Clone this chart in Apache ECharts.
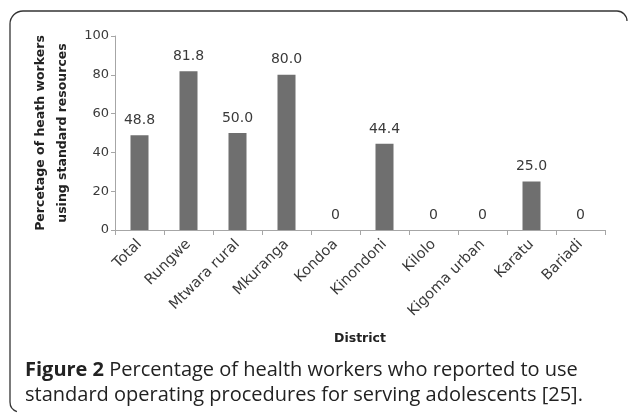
<!DOCTYPE html>
<html>
<head>
<meta charset="utf-8">
<script src="https://cdn.jsdelivr.net/npm/echarts@6/dist/echarts.min.js"></script>
<style>
html,body{margin:0;padding:0;background:#fff;}
#c{width:629px;height:414px;}
</style>
</head>
<body>
<div id="c"></div>
<script>
const districts = ['Total','Rungwe','Mtwara rural','Mkuranga','Kondoa','Kinondoni','Kilolo','Kigoma urban','Karatu','Bariadi'];
const percentages = [48.8, 81.8, 50.0, 80.0, 0, 44.4, 0, 0, 25.0, 0];
const yTicks = [0, 20, 40, 60, 80, 100];

const chart = echarts.init(document.getElementById('c'), null, {renderer:'canvas'});
const fontChart = '"DejaVu Sans", sans-serif';
const fontCap = '"Open Sans", sans-serif';
const frameStyle = {fill:null, stroke:'#333', lineWidth:1.3};
chart.setOption({
  animation:false,
  backgroundColor:'#fff',
  grid:{left:115, right:24, top:36, bottom:184, containLabel:false},
  xAxis:{
    type:'category',
    data:districts,
    axisLine:{lineStyle:{color:'#a6a6a6', width:1}},
    axisTick:{show:true, length:5, lineStyle:{color:'#a6a6a6'}},
    axisLabel:{rotate:45, color:'#3a3a3a', fontSize:14.5, fontFamily:fontChart, margin:12, interval:0},
    name:'District',
    nameLocation:'middle',
    nameGap:102,
    nameTextStyle:{fontWeight:'bold', fontSize:12.5, color:'#222', fontFamily:fontChart}
  },
  yAxis:{
    type:'value',
    min:yTicks[0], max:yTicks[yTicks.length-1], interval:yTicks[1]-yTicks[0],
    axisLine:{show:true, lineStyle:{color:'#a6a6a6'}},
    axisTick:{show:true, length:4, lineStyle:{color:'#a6a6a6'}},
    splitLine:{show:false},
    axisLabel:{color:'#3a3a3a', fontSize:13, fontFamily:fontChart, margin:6},
    name:'Percetage of heath workers\nusing standard resources',
    nameLocation:'middle',
    nameGap:36,
    nameRotate:90,
    nameTextStyle:{fontWeight:'bold', fontSize:12.5, color:'#222', fontFamily:fontChart, lineHeight:22}
  },
  series:[{
    type:'bar',
    data:percentages,
    barWidth:18,
    itemStyle:{color:'#6f6f6f'},
    label:{
      show:true, position:'top', distance:8, color:'#3a3a3a', fontSize:14, fontFamily:fontChart,
      formatter:p => p.value === 0 ? '0' : p.value.toFixed(1)
    }
  }],
  graphic:[
    {type:'line', shape:{x1:10, y1:24, x2:10, y2:402}, style:frameStyle},
    {type:'line', shape:{x1:23, y1:11, x2:617, y2:11}, style:frameStyle},
    {type:'arc', shape:{cx:23, cy:24, r:13, startAngle:Math.PI, endAngle:Math.PI*1.5, clockwise:true}, style:frameStyle},
    {type:'arc', shape:{cx:617, cy:21, r:10, startAngle:Math.PI*1.5, endAngle:Math.PI*2, clockwise:true}, style:frameStyle},
    {type:'arc', shape:{cx:20, cy:402, r:10, startAngle:Math.PI*0.6, endAngle:Math.PI, clockwise:true}, style:frameStyle},
    {type:'text', x:25, y:370,
     style:{rich:{b:{fontWeight:'bold', fontSize:20, fontFamily:fontCap, fill:'#222'},
                  n:{fontSize:20, fontFamily:fontCap, fill:'#222'}},
            text:'{b|Figure 2} {n|Percentage of health workers who reported to use}',
            verticalAlign:'middle', fill:'#222', fontSize:20, fontFamily:fontCap}},
    {type:'text', x:25, y:395,
     style:{text:'standard operating procedures for serving adolescents [25].',
            verticalAlign:'middle', fill:'#222', fontSize:20, fontFamily:fontCap}}
  ]
});
</script>
</body>
</html>
